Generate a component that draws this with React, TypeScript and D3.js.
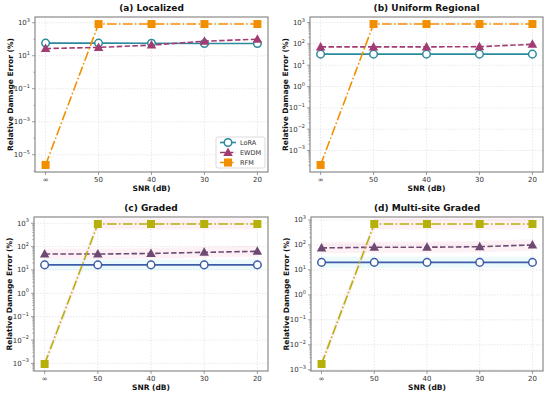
import React from 'react';
import { scaleLog, scalePoint, line, area, extent } from 'd3';

const snrLabels = ['∞', '50', '40', '30', '20'];
const seriesNames = ['LoRA', 'EWDM', 'RFM'];

const loraA = [58, 58, 57, 55, 55];
const ewdmA = [27, 32, 44, 76, 100];
const rfmA = [2.4e-6, 830, 830, 830, 830];

const loraB = [33, 33, 33, 33, 33];
const ewdmB = [72, 72, 72, 74, 95];
const rfmB = [2.1e-4, 850, 850, 850, 850];

const loraC = [16.5, 16.5, 16.5, 16.5, 16.5];
const ewdmC = [48, 48, 51, 57, 63];
const rfmC = [9.4e-4, 930, 930, 930, 930];

const loraD = [20, 20, 20, 20, 20];
const ewdmD = [76, 81, 81, 85, 100];
const rfmD = [1.7e-3, 690, 690, 690, 690];

const ticksA = [3, 1, -1, -3, -5];
const ticksDecade = [3, 2, 1, 0, -1, -2, -3];

const warm = ['#2b8a9c', '#a23b72', '#f18f01'];
const cool = ['#3f5ca8', '#6e4a72', '#b5b00a'];

const FONT = 'DejaVu Sans, sans-serif';

type Panel = {
  title: string;
  box: [number, number, number, number];
  series: number[][];
  ticks: number[];
  colors: string[];
  bands: boolean;
  legend: boolean;
};

const panels: Panel[] = [
  { title: '(a) Localized', box: [35, 17, 268, 172], series: [loraA, ewdmA, rfmA], ticks: ticksA, colors: warm, bands: false, legend: true },
  { title: '(b) Uniform Regional', box: [310, 17, 543, 172], series: [loraB, ewdmB, rfmB], ticks: ticksDecade, colors: warm, bands: false, legend: false },
  { title: '(c) Graded', box: [34, 217, 268, 371], series: [loraC, ewdmC, rfmC], ticks: ticksDecade, colors: cool, bands: true, legend: false },
  { title: '(d) Multi-site Graded', box: [311, 217, 543, 371], series: [loraD, ewdmD, rfmD], ticks: ticksDecade, colors: cool, bands: true, legend: false },
];

const dashes = [undefined, '5.5,2.4', '9.6,2.4,1.5,2.4'];

const Marker = ({ kind, x, y, color }: { kind: number; x: number; y: number; color: string }) => {
  if (kind === 0) return <circle cx={x} cy={y} r={3.8} fill="#fff" stroke={color} strokeWidth={1.5} />;
  if (kind === 1) {
    const s = 5;
    return <path d={`M${x},${y - s}L${x + s * 0.95},${y + s * 0.7}L${x - s * 0.95},${y + s * 0.7}Z`} fill={color} />;
  }
  return <rect x={x - 4} y={y - 4} width={8} height={8} fill={color} />;
};

const Exp = ({ e }: { e: number }) => (
  <>
    10<tspan dy={-3.5} fontSize={5}>{e < 0 ? `−${-e}` : e}</tspan>
  </>
);

const ChartPanel = ({ p }: { p: Panel }) => {
  const [x0, y0, x1, y1] = p.box;
  const x = scalePoint<string>().domain(snrLabels).range([x0, x1]).padding(0.2);
  const all = p.series.flat().map((v) => Math.log10(v));
  const [lo, hi] = extent(all) as [number, number];
  const pad = (hi - lo) * 0.05;
  const y = scaleLog().domain([10 ** (lo - pad), 10 ** (hi + pad)]).range([y1, y0]);
  const cx = (x0 + x1) / 2;
  const cy = (y0 + y1) / 2;
  const clipId = `clip-${x0}-${y0}`;

  // minor ticks: every decade for panel (a), 2..9 within decades elsewhere
  const minor: number[] = [];
  const [dlo, dhi] = [Math.floor(lo - pad), Math.ceil(hi + pad)];
  for (let d = dlo; d <= dhi; d++) {
    if (p.ticks.length < 6 && !p.ticks.includes(d)) minor.push(10 ** d);
    if (p.ticks.length >= 6) for (let k = 2; k < 10; k++) minor.push(k * 10 ** d);
  }
  const dom = y.domain();
  const minorIn = minor.filter((v) => v >= dom[0] && v <= dom[1]);

  return (
    <g>
      <defs>
        <clipPath id={clipId}>
          <rect x={x0} y={y0} width={x1 - x0} height={y1 - y0} />
        </clipPath>
      </defs>
      <rect x={x0} y={y0} width={x1 - x0} height={y1 - y0} fill="#fff" />
      {snrLabels.map((s) => (
        <line key={s} x1={x(s)} x2={x(s)} y1={y0} y2={y1} stroke="#d8d8d8" strokeWidth={0.6} strokeDasharray="1.5,1.5" />
      ))}
      {p.ticks.map((t) => (
        <line key={t} x1={x0} x2={x1} y1={y(10 ** t)} y2={y(10 ** t)} stroke="#d8d8d8" strokeWidth={0.6} strokeDasharray="1.5,1.5" />
      ))}
      <g clipPath={`url(#${clipId})`}>
        {p.bands &&
          p.series.map((vals, i) => {
            const a = area<number>()
              .x((_, j) => x(snrLabels[j]) as number)
              .y0((v) => y(v * 0.6))
              .y1((v) => y(v * 1.7));
            return <path key={i} d={a(vals) || ''} fill={i === 0 ? '#8fe3ec' : '#f7a8c8'} opacity={0.16} />;
          })}
        {p.series.map((vals, i) => {
          const l = line<number>()
            .x((_, j) => x(snrLabels[j]) as number)
            .y((v) => y(v));
          return (
            <g key={i}>
              <path d={l(vals) || ''} fill="none" stroke={p.colors[i]} strokeWidth={1.6} strokeDasharray={dashes[i]} />
              {vals.map((v, j) => (
                <Marker key={j} kind={i} x={x(snrLabels[j]) as number} y={y(v)} color={p.colors[i]} />
              ))}
            </g>
          );
        })}
      </g>
      <rect x={x0} y={y0} width={x1 - x0} height={y1 - y0} fill="none" stroke="#8a8a8a" strokeWidth={1.2} />
      {minorIn.map((v, i) => (
        <line key={i} x1={x0 - 1.8} x2={x0} y1={y(v)} y2={y(v)} stroke="#777" strokeWidth={0.5} />
      ))}
      {p.ticks.map((t) => (
        <g key={t}>
          <line x1={x0 - 3} x2={x0} y1={y(10 ** t)} y2={y(10 ** t)} stroke="#777" strokeWidth={0.7} />
          <text x={x0 - 5} y={y(10 ** t) + 2.5} textAnchor="end" fontSize={7} fill="#333" fontFamily={FONT}>
            <Exp e={t} />
          </text>
        </g>
      ))}
      {snrLabels.map((s) => (
        <g key={s}>
          <line x1={x(s)} x2={x(s)} y1={y1} y2={y1 + 3} stroke="#777" strokeWidth={0.7} />
          <text x={x(s)} y={y1 + 10} textAnchor="middle" fontSize={7} fill="#333" fontFamily={FONT}>
            {s}
          </text>
        </g>
      ))}
      <text x={cx} y={y1 + 18.5} textAnchor="middle" fontSize={7.5} fontWeight="bold" fill="#111" fontFamily={FONT}>
        SNR (dB)
      </text>
      <text
        transform={`translate(${x0 - 22.5},${cy}) rotate(-90)`}
        textAnchor="middle"
        fontSize={7.5}
        fontWeight="bold"
        fill="#111"
        fontFamily={FONT}
      >
        Relative Damage Error (%)
      </text>
      <text x={cx} y={y0 - 6.5} textAnchor="middle" fontSize={9} fontWeight="bold" fill="#111" fontFamily={FONT}>
        {p.title}
      </text>
      {p.legend && (
        <g>
          <rect x={x1 - 52} y={y1 - 35} width={49} height={31} rx={2} fill="#fff" fillOpacity={0.9} stroke="#ccc" strokeWidth={0.7} />
          {seriesNames.map((n, i) => {
            const ly = y1 - 29.5 + i * 10;
            return (
              <g key={n}>
                <line x1={x1 - 48} x2={x1 - 32} y1={ly} y2={ly} stroke={p.colors[i]} strokeWidth={1.6} strokeDasharray={dashes[i]} />
                <Marker kind={i} x={x1 - 40} y={ly} color={p.colors[i]} />
                <text x={x1 - 28} y={ly + 2.4} fontSize={6.5} fill="#333" fontFamily={FONT}>
                  {n}
                </text>
              </g>
            );
          })}
        </g>
      )}
    </g>
  );
};

export default function App() {
  return (
    <div style={{ position: 'absolute', left: 0, top: 0 }}>
      <svg width={550} height={394} style={{ display: 'block', background: '#fff' }}>
        {panels.map((p) => (
          <ChartPanel key={p.title} p={p} />
        ))}
      </svg>
    </div>
  );
}
